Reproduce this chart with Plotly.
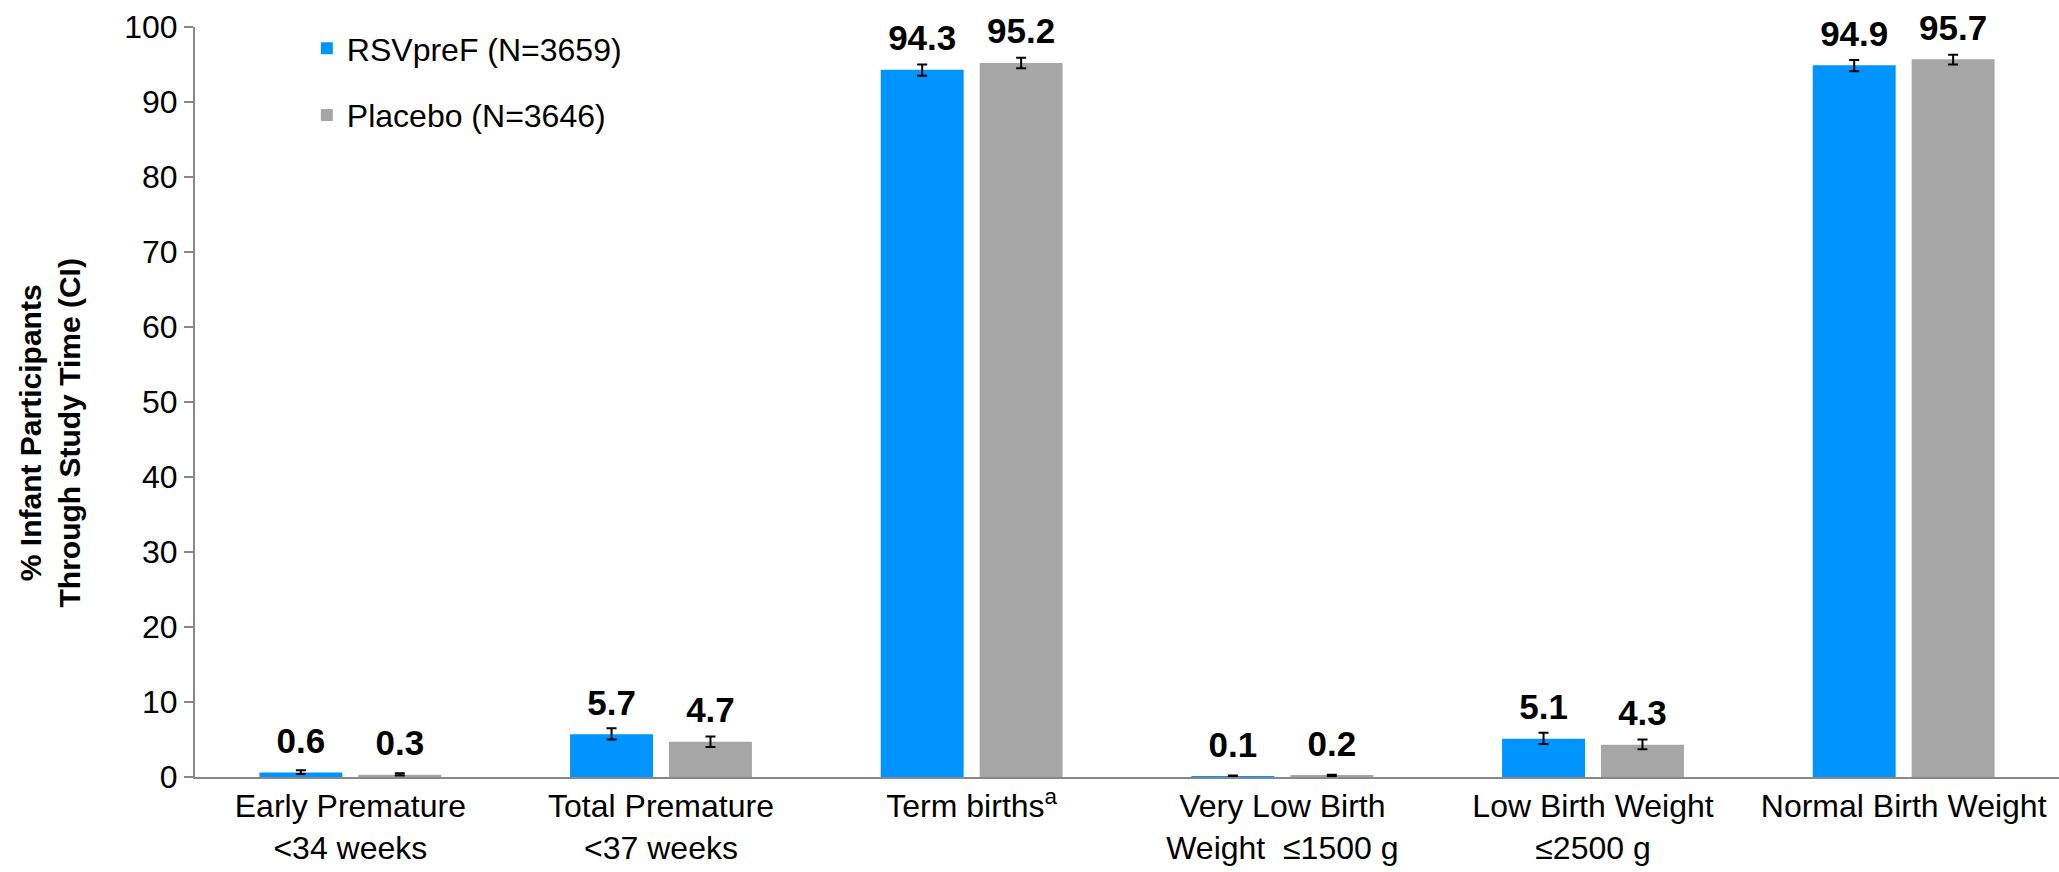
import plotly.graph_objects as go

# Birth outcome categories (x axis)
categories = [
    "Early Premature<br>&lt;34 weeks",
    "Total Premature<br>&lt;37 weeks",
    "Term births<sup>a</sup>",
    "Very Low Birth<br>Weight\u00a0\u00a0≤1500 g",
    "Low Birth Weight<br>≤2500 g",
    "Normal Birth Weight",
]

# Percent of infant participants
rsv_values = [0.6, 5.7, 94.3, 0.1, 5.1, 94.9]
placebo_values = [0.3, 4.7, 95.2, 0.2, 4.3, 95.7]

# Confidence interval bounds
rsv_ci_low = [0.4, 5.0, 93.5, 0.0, 4.4, 94.1]
rsv_ci_high = [0.9, 6.5, 95.0, 0.2, 5.9, 95.6]
placebo_ci_low = [0.2, 4.0, 94.5, 0.1, 3.7, 95.0]
placebo_ci_high = [0.5, 5.4, 95.9, 0.3, 5.0, 96.3]

series_names = ["RSVpreF (N=3659)", "Placebo (N=3646)"]
y_title = "% Infant Participants<br>Through Study Time (CI)"

BLUE = "#0094FF"
GRAY = "#A6A6A6"
AXIS_GRAY = "#888888"
FONT = "Liberation Sans, Arial, sans-serif"

fig = go.Figure()


def add_series(name, vals, lo, hi, color, group):
    fig.add_trace(go.Bar(
        x=categories, y=vals, name=name,
        marker=dict(color=color, line=dict(width=0)),
        offsetgroup=group, legendgroup=group,
        error_y=dict(
            type="data", symmetric=False,
            array=[h - v for h, v in zip(hi, vals)],
            arrayminus=[v - l for v, l in zip(vals, lo)],
            color="black", thickness=2, width=5,
        ),
        hoverinfo="skip",
    ))
    # value labels sitting above each bar and its error bar
    # (an invisible marker pads the text up from the bar top)
    fig.add_trace(go.Scatter(
        x=categories, y=vals, mode="markers+text",
        text=[f"{v:.1f}" for v in vals],
        textposition="top center",
        textfont=dict(family=FONT, size=35, color="black", weight="bold"),
        marker=dict(size=16, opacity=0),
        cliponaxis=False,
        offsetgroup=group, showlegend=False, hoverinfo="skip",
    ))


add_series(series_names[0], rsv_values, rsv_ci_low, rsv_ci_high, BLUE, "rsv")
add_series(series_names[1], placebo_values, placebo_ci_low, placebo_ci_high, GRAY, "pbo")

fig.update_layout(
    width=2059, height=872,
    margin=dict(l=195, r=0, t=27, b=95),
    paper_bgcolor="white", plot_bgcolor="white",
    barmode="group", bargap=0.363, bargroupgap=0.162,
    scattermode="group", scattergap=0.363,
    font=dict(family=FONT, color="black"),
    legend=dict(
        x=0.06, y=1.008, xanchor="left", yanchor="top",
        font=dict(size=32, family=FONT), tracegroupgap=22,
        bgcolor="rgba(0,0,0,0)",
    ),
    showlegend=True,
    annotations=[dict(
        text="<b>" + y_title + "</b>",
        xref="paper", yref="paper", x=0, y=0.458,
        xanchor="center", yanchor="middle", xshift=-146,
        textangle=-90, showarrow=False,
        font=dict(size=30, family=FONT, color="black"),
    )],
)

fig.update_xaxes(
    showline=True, linecolor=AXIS_GRAY, linewidth=2,
    ticks="", tickfont=dict(size=32, family=FONT, color="black"),
    showgrid=False, zeroline=False,
)
fig.update_yaxes(
    range=[0, 100], dtick=10, tick0=0,
    showline=True, linecolor=AXIS_GRAY, linewidth=2,
    ticks="outside", ticklen=9, tickwidth=2, tickcolor=AXIS_GRAY,
    tickfont=dict(size=32, family=FONT, color="black"),
    showgrid=False, zeroline=False,
)

fig.write_html("out.html")
